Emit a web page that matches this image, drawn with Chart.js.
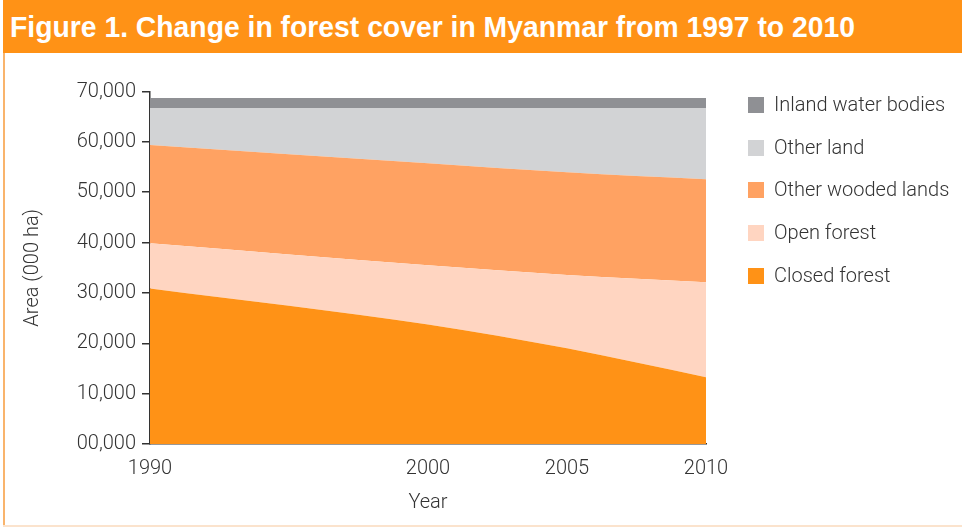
<!DOCTYPE html>
<html>
<head>
<meta charset="utf-8">
<script src="https://cdn.jsdelivr.net/npm/chart.js@4.4.1/dist/chart.umd.min.js"></script>
<style>
  html, body { margin: 0; padding: 0; background: #fff; }
  body { width: 962px; height: 528px; position: relative; overflow: hidden; }
  #banner { position: absolute; left: 3px; top: 0; width: 959px; height: 53px; background: #FF9216; }
  #title { position: absolute; left: 10px; top: 10px; color: #fff; font: bold 30px "Liberation Sans", Arial, sans-serif;
           white-space: nowrap; transform-origin: 0 0; }
  #frameL { position: absolute; left: 3px; top: 53px; width: 2px; height: 474px; background: #F9B46C; }
  #frameB { position: absolute; left: 3px; top: 525px; width: 959px; height: 2px; background: #FBE3CD; }
  #chart { position: absolute; left: 0; top: 0; }
  #legend { position: absolute; left: 748px; top: 0; width: 214px; height: 300px; }
  .item { position: absolute; left: 0; height: 16px; white-space: nowrap; }
  .sw { position: absolute; left: 0; top: 0; width: 16px; height: 16px; }
  .lbl { position: absolute; left: 26px; top: -4px; font: 300 20px Roboto, "Liberation Sans", sans-serif; color: #333; line-height: 23px; }
</style>
</head>
<body>
<div id="banner"></div>
<div id="title">Figure 1. Change in forest cover in Myanmar from 1997 to 2010</div>
<div id="frameL"></div>
<div id="frameB"></div>
<canvas id="chart" width="962" height="528"></canvas>
<div id="legend"></div>
<script>
// Survey years and areas (thousand hectares) for each land class
const YEARS = [1990, 2000, 2005, 2010];
const CLOSED_FOREST = [30900, 23750, 19000, 13250];
const OPEN_FOREST = [8950, 11730, 14560, 18860];
const OTHER_WOODED = [19520, 20260, 20390, 20450];
const OTHER_LAND = [7330, 10960, 12750, 14140];
const INLAND_WATER = [2000, 2000, 2000, 2000];
const Y_TICKS = [0, 10000, 20000, 30000, 40000, 50000, 60000, 70000];

// Fit the heading to its banner width
const title = document.getElementById('title');
const tw = title.getBoundingClientRect().width;
title.style.transform = 'scaleX(' + (845 / tw) + ')';

const AXIS_FONT = { family: 'Roboto, "Liberation Sans", sans-serif', size: 20, weight: 300 };
const INK = '#333333';

const series = [
  { label: 'Closed forest', values: CLOSED_FOREST, color: '#FF9216' },
  { label: 'Open forest', values: OPEN_FOREST, color: '#FFD5C1' },
  { label: 'Other wooded lands', values: OTHER_WOODED, color: '#FFA262' },
  { label: 'Other land', values: OTHER_LAND, color: '#D2D3D5' },
  { label: 'Inland water bodies', values: INLAND_WATER, color: '#8F9094' }
];

const datasets = series.map((s, i) => ({
  label: s.label,
  data: s.values.map((v, k) => ({ x: YEARS[k], y: v })),
  backgroundColor: s.color,
  borderColor: 'rgba(0,0,0,0)',
  borderWidth: 0,
  pointRadius: 0,
  fill: i === 0 ? 'origin' : '-1',
  cubicInterpolationMode: 'monotone'
}));

const chart = new Chart(document.getElementById('chart'), {
  type: 'line',
  data: { datasets },
  options: {
    responsive: false,
    animation: false,
    layout: { padding: { top: 91.5, left: 0, right: 256, bottom: 0 } },
    plugins: { legend: { display: false }, tooltip: { enabled: false } },
    scales: {
      x: {
        type: 'linear', min: 1990, max: 2010, z: 1,
        afterBuildTicks: s => { s.ticks = YEARS.map(v => ({ value: v })); },
        afterFit: s => { s.height = 84; },
        grid: { display: false, drawTicks: false },
        border: { display: true, color: INK, width: 1.5 },
        ticks: { font: AXIS_FONT, color: INK, padding: 13, maxRotation: 0, autoSkip: false,
                 callback: v => String(v) },
        title: { display: true, text: 'Year', font: AXIS_FONT, color: INK, padding: { top: 0, bottom: 13 } }
      },
      y: {
        stacked: true, min: 0, max: 70000, z: 1,
        afterBuildTicks: s => { s.ticks = Y_TICKS.map(v => ({ value: v })); },
        afterFit: s => { s.width = 150; },
        grid: { drawOnChartArea: false, drawTicks: true, tickLength: 8, color: INK, lineWidth: 1.5 },
        border: { display: true, color: INK, width: 1.5 },
        ticks: { font: AXIS_FONT, color: INK, padding: 6,
                 callback: v => v === 0 ? '00,000' : v.toLocaleString('en-US') },
        title: { display: true, text: 'Area (000 ha)', font: AXIS_FONT, color: INK, padding: { top: 21, bottom: 0 } }
      }
    }
  }
});

// Legend built from the chart's datasets, top entry = top layer
const legend = document.getElementById('legend');
const CENTERS = [105, 148, 190, 233, 276];
chart.data.datasets.slice().reverse().forEach((ds, i) => {
  const item = document.createElement('div');
  item.className = 'item';
  item.style.top = (CENTERS[i] - 8) + 'px';
  const sw = document.createElement('div');
  sw.className = 'sw';
  sw.style.background = ds.backgroundColor;
  const lbl = document.createElement('div');
  lbl.className = 'lbl';
  lbl.textContent = ds.label;
  item.appendChild(sw);
  item.appendChild(lbl);
  legend.appendChild(item);
});
</script>
</body>
</html>
